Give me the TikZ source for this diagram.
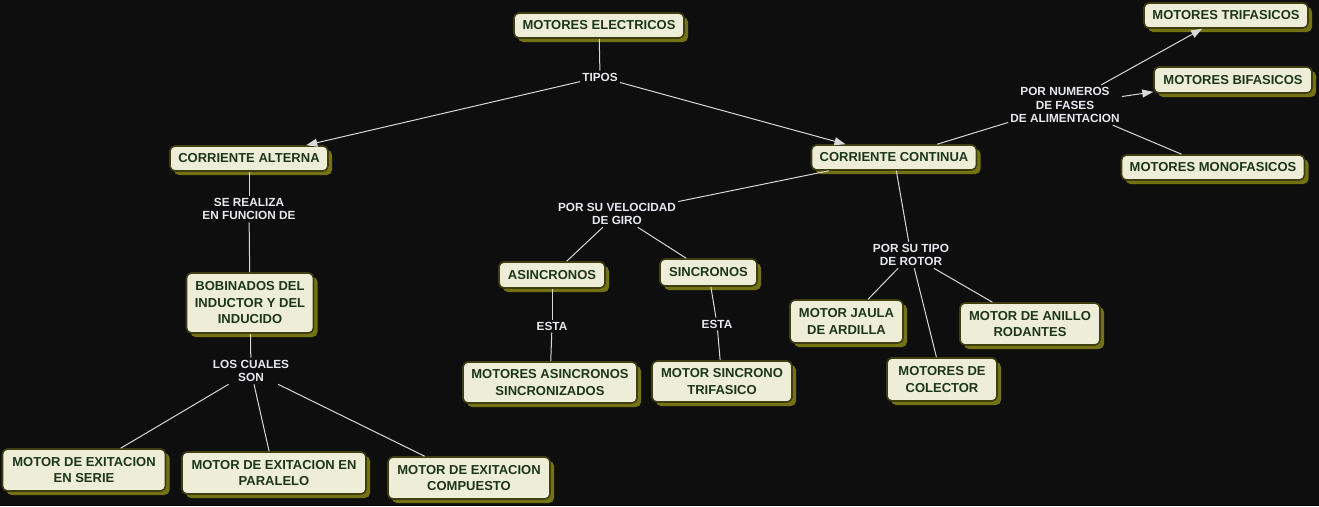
\documentclass[tikz,border=0pt]{standalone}
\usepackage{fontspec}
\setmainfont{Liberation Sans}
\usetikzlibrary{shadows,arrows.meta}
\definecolor{bgc}{HTML}{0E0E0E}
\definecolor{boxfill}{HTML}{EEEED8}
\definecolor{boxborder}{HTML}{3E3E10}
\definecolor{shadowc}{HTML}{737314}
\definecolor{boxtext}{HTML}{1C361C}
\definecolor{lbltext}{HTML}{E6E8EE}
\definecolor{linec}{HTML}{D8D8D8}
\newcommand\myboxfont{\bfseries\fontsize{13}{16.5}\selectfont}
\newcommand\mylblfont{\bfseries\fontsize{11.8}{13.8}\selectfont}
\tikzset{
  cbox/.style={draw=boxborder, line width=1.6pt, fill=boxfill, rounded corners=5pt,
    text=boxtext, font=\myboxfont, align=center, inner sep=1.5pt,
    drop shadow={shadow xshift=4pt, shadow yshift=-4pt, shadow scale=1, fill=shadowc, opacity=1}},
  lbl/.style={text=lbltext, font=\mylblfont, align=center, inner sep=2pt},
  conn/.style={draw=linec, line width=1pt},
  arr/.style={conn, -{Triangle[length=11pt,width=8pt,fill=linec]}}
}
\begin{document}
\begin{tikzpicture}[x=1pt,y=-1pt]
\fill[bgc] (0,0) rectangle (1319,506);
\useasboundingbox (0,0) rectangle (1319,506);
% boxes
\node[cbox, minimum width=170, minimum height=25] (elec) at (599,25.5) {MOTORES ELECTRICOS};
\node[cbox, minimum width=158, minimum height=25] (alt) at (249,158.5) {CORRIENTE ALTERNA};
\node[cbox, minimum width=165, minimum height=25] (cc) at (894,157.5) {CORRIENTE CONTINUA};
\node[cbox, minimum width=164, minimum height=25] (tri) at (1226,15.5) {MOTORES TRIFASICOS};
\node[cbox, minimum width=158, minimum height=26] (bi) at (1233,80) {MOTORES BIFASICOS};
\node[cbox, minimum width=183, minimum height=25] (mono) at (1213,167.5) {MOTORES MONOFASICOS};
\node[cbox, minimum width=127, minimum height=60] (bob) at (250,303) {BOBINADOS DEL\\INDUCTOR Y DEL\\INDUCIDO};
\node[cbox, minimum width=106, minimum height=26] (asin) at (552,275) {ASINCRONOS};
\node[cbox, minimum width=97, minimum height=27] (sin) at (708.5,272.5) {SINCRONOS};
\node[cbox, minimum width=174, minimum height=41] (asinsinc) at (550,382.5) {MOTORES ASINCRONOS\\SINCRONIZADOS};
\node[cbox, minimum width=140, minimum height=41] (sintri) at (722,381.5) {MOTOR SINCRONO\\TRIFASICO};
\node[cbox, minimum width=113, minimum height=43] (jaula) at (846.5,321.5) {MOTOR JAULA\\DE ARDILLA};
\node[cbox, minimum width=140, minimum height=42] (anillo) at (1030,324) {MOTOR DE ANILLO\\RODANTES};
\node[cbox, minimum width=110, minimum height=43] (colector) at (942,379.5) {MOTORES DE\\COLECTOR};
\node[cbox, minimum width=163, minimum height=42] (serie) at (84,470) {MOTOR DE EXITACION\\EN SERIE};
\node[cbox, minimum width=184, minimum height=42] (paralelo) at (274,473) {MOTOR DE EXITACION EN\\PARALELO};
\node[cbox, minimum width=162, minimum height=42] (compuesto) at (469,478) {MOTOR DE EXITACION\\COMPUESTO};
% labels
\node[lbl] (tipos) at (600,77) {TIPOS};
\node[lbl] (serealiza) at (249,209) {SE REALIZA\\EN FUNCION DE};
\node[lbl] (loscuales) at (251,371) {LOS CUALES\\SON};
\node[lbl] (velocidad) at (617,214) {POR SU VELOCIDAD\\DE GIRO};
\node[lbl] (esta1) at (552,326) {ESTA};
\node[lbl] (esta2) at (717,324) {ESTA};
\node[lbl] (rotor) at (911,255) {POR SU TIPO\\DE ROTOR};
\node[lbl] (fases) at (1065,105) {POR NUMEROS\\DE FASES\\DE ALIMENTACION};
% connectors
\draw[conn] (elec) -- (tipos);
\draw[arr] (tipos) -- (alt);
\draw[arr] (tipos) -- (cc);
\draw[conn] (cc) -- (fases);
\draw[arr] (fases) -- (tri);
\draw[arr] (fases) -- (bi);
\draw[conn] (fases) -- (mono);
\draw[conn] (cc) -- (velocidad);
\draw[conn] (velocidad) -- (asin);
\draw[conn] (velocidad) -- (sin);
\draw[conn] (asin) -- (esta1);
\draw[conn] (esta1) -- (asinsinc);
\draw[conn] (sin) -- (esta2);
\draw[conn] (esta2) -- (sintri);
\draw[conn] (cc) -- (rotor);
\draw[conn] (rotor) -- (jaula);
\draw[conn] (rotor) -- (colector);
\draw[conn] (rotor) -- (anillo);
\draw[conn] (alt) -- (serealiza);
\draw[conn] (serealiza) -- (bob);
\draw[conn] (bob) -- (loscuales);
\draw[conn] (loscuales) -- (serie);
\draw[conn] (loscuales) -- (paralelo);
\draw[conn] (loscuales) -- (compuesto);
\end{tikzpicture}
\end{document}
